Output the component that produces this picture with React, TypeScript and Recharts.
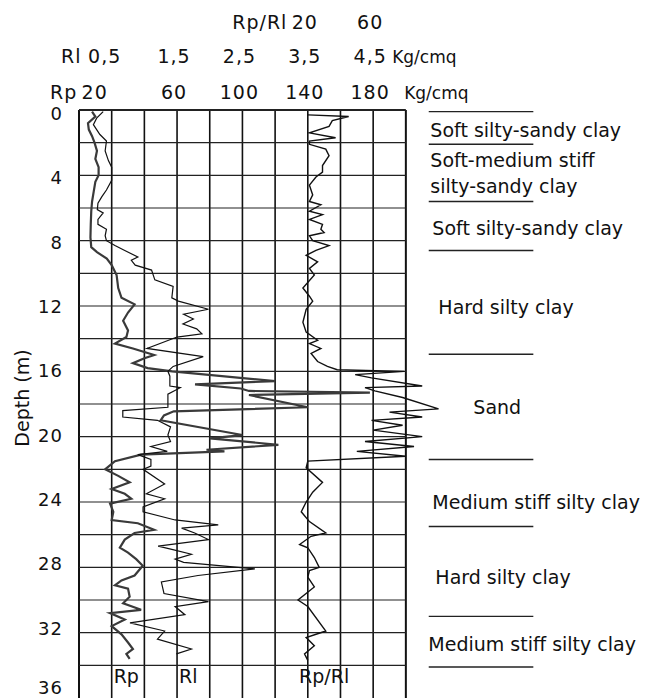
import React from "react";
import { LineChart, Line, XAxis, YAxis, ReferenceLine, ReferenceDot } from "recharts";

const FONT = "'DejaVu Sans', sans-serif";

// Rp - cone tip resistance (Kg/cmq) against depth (m)
const rpDepth = [
  0.1, 0.4, 0.8, 1.2, 1.6, 2.0, 2.5, 3.0, 3.5, 4.0, 4.4, 5.0, 5.6, 6.2, 7.0, 7.8, 8.4, 8.7, 9.1, 9.5,
  10.1, 10.9, 11.5, 11.9, 12.4, 12.9, 13.5, 13.9, 14.3, 14.6, 15.0, 15.2, 15.5, 15.8, 16.0, 16.6, 16.8,
  17.05, 17.2, 17.3, 17.45, 18.2, 18.45, 18.7, 19.0, 19.9, 20.1, 20.5, 20.8, 20.9, 21.1, 21.5, 22.0,
  22.4, 22.8, 23.2, 23.5, 23.8, 24.1, 24.6, 25.1, 25.3, 25.7, 25.9, 26.3, 26.8, 27.1, 27.5, 27.9, 28.5,
  28.8, 29.1, 29.3, 29.8, 30.2, 30.6, 30.8, 31.2, 31.6, 32.1, 32.6, 33.0, 33.3, 33.6,
];
const rpValue = [
  8, 10, 5.5, 6, 8, 9.5, 11, 10, 12, 12, 10, 9, 8, 7.5, 7.2, 7, 7.5, 11, 17, 20,
  23, 24, 26, 34, 30, 27, 30, 29, 22, 33, 46, 40, 33, 42, 57, 120, 71,
  99, 104, 178, 104, 140, 58, 52, 50, 100, 80, 122, 78, 89, 38, 22, 16,
  24, 31, 20, 28, 32, 19, 21, 20, 36, 46, 34, 28, 25, 30, 35, 39, 34,
  26, 22, 30, 31, 27, 38, 19, 28, 20, 26, 30, 33, 29, 31,
];

// Rl - lateral friction (Kg/cmq)
const rlDepth = [
  0.1, 0.5, 0.9, 1.5, 1.9, 2.5, 3.1, 3.5, 4.3, 4.9, 5.3, 5.7, 6.1, 6.3, 6.7, 7.0, 7.3, 7.7, 8.0, 8.3,
  8.6, 9.0, 9.2, 9.5, 9.8, 10.4, 10.8, 11.5, 11.7, 12.2, 12.5, 12.8, 13.1, 13.4, 13.7, 13.9, 14.6, 15.1,
  15.7, 16.0, 16.3, 16.9, 17.0, 17.4, 18.2, 18.4, 18.8, 19.0, 19.4, 19.9, 20.3, 20.6, 20.9, 21.1, 21.4,
  21.8, 22.0, 22.9, 23.5, 23.8, 24.3, 24.6, 25.1, 25.4, 25.6, 25.9, 26.3, 26.7, 26.9, 27.2, 27.5, 27.7,
  28.1, 28.5, 28.9, 29.6, 30.1, 30.4, 30.9, 31.4, 31.9, 32.4, 33.0, 33.3,
];
const rlValue = [
  0.37, 0.27, 0.22, 0.32, 0.42, 0.4, 0.45, 0.5, 0.5, 0.42, 0.35, 0.29, 0.28, 0.37, 0.29, 0.29, 0.42, 0.4, 0.42, 0.55,
  0.7, 0.9, 0.8, 0.86, 1.11, 1.16, 1.44, 1.42, 1.52, 1.98, 1.6, 1.75, 1.59, 1.8, 1.88, 1.5, 1.04, 1.9,
  1.44, 1.36, 1.39, 1.39, 1.55, 1.36, 1.36, 0.67, 0.67, 1.2, 1.4, 1.36, 1.4, 1.1, 1.35, 0.9, 1.1,
  1.1, 0.98, 1.31, 1.03, 1.31, 0.98, 0.98, 1.47, 2.13, 1.57, 1.77, 1.98, 1.21, 1.42, 1.72, 1.47, 1.6,
  2.69, 1.82, 1.26, 1.3, 1.98, 1.47, 1.62, 0.78, 1.31, 1.2, 1.72, 1.49,
];

// Rp/Rl ratio
const ratioDepth = [
  0.3, 0.4, 0.65, 1.0, 1.4, 1.7, 1.9, 2.1, 2.4, 2.8, 3.4, 3.8, 4.1, 4.6, 5.2, 5.6, 5.8, 6.2, 6.4, 6.7,
  7.0, 7.3, 7.5, 7.7, 8.0, 8.3, 8.6, 8.9, 9.3, 9.7, 10.1, 10.9, 11.4, 11.7, 12.2, 13.0, 13.6, 14.1, 14.3,
  14.6, 14.9, 15.4, 15.7, 15.9, 16.0, 16.2, 16.4, 16.9, 17.0, 17.2, 17.6, 18.3, 18.5, 18.8, 19.0, 19.3,
  19.6, 20.0, 20.3, 20.6, 20.9, 21.2, 21.5, 21.9, 22.8, 23.4, 24.0, 24.6, 25.2, 25.9, 26.1, 26.6, 26.8,
  27.4, 28.0, 28.2, 28.6, 29.2, 30.0, 30.4, 31.9, 32.3, 32.8, 33.3, 33.7,
];
const ratioValue = [
  20, 45, 35, 33, 21, 37, 21, 21, 31, 33, 29, 29, 25, 21, 23, 21, 28, 21, 29, 21,
  29, 28, 30, 21, 23, 33, 25, 19, 26, 21, 24, 17, 21, 23, 19, 17, 19, 26, 21,
  28, 22, 26, 32, 38, 79, 49, 59, 90, 55, 61, 78, 100, 70, 90, 59, 78,
  60, 90, 55, 85, 50, 80, 20, 19, 29, 23, 19, 16, 21, 31, 22, 15, 20,
  24, 27, 21, 20, 24, 14, 20, 31, 19, 24, 18, 20,
];

// soil profile
const layerBounds = [0.1, 2.1, 5.6, 8.6, 14.95, 21.4, 25.5, 31.0, 34.1];
const layerNames = [
  ["Soft silty-sandy clay"],
  ["Soft-medium stiff", "silty-sandy clay"],
  ["Soft silty-sandy clay"],
  ["Hard silty clay"],
  ["Sand"],
  ["Medium stiff silty clay"],
  ["Hard silty clay"],
  ["Medium stiff silty clay"],
];
const layerTextDepth = [1.67, 3.51, 7.66, 12.46, 18.63, 24.4, 29.0, 33.1];
const layerIndent = [0, 0, 2, 8, 43, 2, 5, -2];

const depthTicks = [0, 4, 8, 12, 16, 20, 24, 28, 32, 36];
const gridDepths = [0, 2, 4, 6, 8, 10, 12, 14, 16, 18, 20, 22, 24, 26, 28, 30, 32, 34];
const gridRp = [0, 20, 40, 60, 80, 100, 120, 140, 160, 180, 200];
const rpTicks = [20, 60, 100, 140, 180];
const rlTicks = [0.5, 1.5, 2.5, 3.5, 4.5];
const ratioTicks = [20, 60];

const rpData = rpDepth.map((d, i) => ({ d, v: rpValue[i] }));
const rlData = rlDepth.map((d, i) => ({ d, v: rlValue[i] }));
const ratioData = ratioDepth.map((d, i) => ({ d, v: ratioValue[i] }));

const fmt = (v: number) => String(v).replace(".", ",");

type Row = { name: string; baseline: number; count: number; firstDx: number; unitDx?: number };

const headerTick = (row: Row) => (props: any) => {
  const { x, payload, index } = props;
  const label = fmt(payload.value);
  const cx = x - 3 + (index === 0 ? row.firstDx : 0);
  const half = label.length * 0.3 * 19;
  return (
    <g fontFamily={FONT} fill="#111">
      {index === 0 && (
        <text x={cx - half - 6} y={row.baseline} textAnchor="end" fontSize={19} letterSpacing={1}>
          {row.name}
        </text>
      )}
      <text x={cx} y={row.baseline} textAnchor="middle" fontSize={19} letterSpacing={1}>
        {label}
      </text>
      {index === row.count - 1 && row.unitDx !== undefined && (
        <text x={cx + row.unitDx} y={row.baseline} fontSize={17}>
          Kg/cmq
        </text>
      )}
    </g>
  );
};

// depth numbers sit a little below their grid line near the top of the log
const DepthTick = (props: any) => {
  const { y, payload } = props;
  const ty = Math.min(y + 10 - payload.value * 0.25, 686);
  return (
    <text x={55} y={ty} textAnchor="end" fontSize={18} letterSpacing={1} fill="#111" fontFamily={FONT}>
      {payload.value}
    </text>
  );
};

const textLabel = (lines: string[], dx: number, anchor: string = "start") => (props: any) => {
  const { viewBox } = props;
  return (
    <text x={viewBox.x + dx} y={viewBox.y} textAnchor={anchor} fontSize={19} fill="#111" fontFamily={FONT}>
      {lines.map((t, i) => (
        <tspan key={i} x={viewBox.x + dx} dy={i === 0 ? 0 : 25.5}>
          {t}
        </tspan>
      ))}
    </text>
  );
};

export default function App() {
  return (
    <div style={{ width: 647, height: 690, fontFamily: FONT }}>
      <LineChart width={647} height={690} layout="vertical" margin={{ top: 0, right: 4, bottom: 0, left: 0 }}>
        <XAxis
          xAxisId="ratio"
          type="number"
          orientation="top"
          domain={[-120, 230]}
          ticks={ratioTicks}
          interval={0}
          height={34}
          axisLine={false}
          tickLine={false}
          allowDataOverflow
          tick={headerTick({ name: "Rp/Rl", baseline: 21, count: ratioTicks.length, firstDx: 0 })}
        />
        <XAxis
          xAxisId="rl"
          type="number"
          orientation="top"
          domain={[0, 8.75]}
          ticks={rlTicks}
          interval={0}
          height={34}
          axisLine={false}
          tickLine={false}
          allowDataOverflow
          tick={headerTick({ name: "Rl", baseline: 55, count: rlTicks.length, firstDx: -4, unitDx: 22 })}
        />
        <XAxis
          xAxisId="rp"
          type="number"
          orientation="top"
          domain={[0, 350]}
          ticks={rpTicks}
          interval={0}
          height={34}
          axisLine={false}
          tickLine={false}
          allowDataOverflow
          tick={headerTick({ name: "Rp", baseline: 91, count: rpTicks.length, firstDx: -14, unitDx: 34 })}
        />
        <YAxis
          type="number"
          dataKey="d"
          domain={[0, 36]}
          ticks={depthTicks}
          interval={0}
          width={71}
          axisLine={false}
          tickLine={false}
          allowDataOverflow
          tick={DepthTick}
          label={(p: any) => {
            const vb = p.viewBox;
            const x = vb.x + 14;
            const y = vb.y + vb.height / 2 - 6;
            return (
              <text x={x} y={y} transform={`rotate(-90 ${x} ${y})`} textAnchor="middle" dominantBaseline="central" fontSize={19} fill="#111" fontFamily={FONT}>
                Depth (m)
              </text>
            );
          }}
        />

        {gridRp.map((v) => (
          <ReferenceLine key={`v${v}`} xAxisId="rp" x={v} stroke="#111" strokeWidth={v === 0 || v === 200 ? 2 : 1.6} />
        ))}
        {gridDepths.map((d) => (
          <ReferenceLine
            key={`h${d}`}
            xAxisId="rp"
            segment={[{ x: 0, y: d }, { x: 200, y: d }]}
            stroke="#222"
            strokeWidth={d === 0 ? 1.8 : 1.2}
          />
        ))}

        <Line xAxisId="rp" data={rpData} dataKey="v" stroke="#3a3a3a" strokeWidth={2.2} dot={false} isAnimationActive={false} />
        <Line xAxisId="rl" data={rlData} dataKey="v" stroke="#111" strokeWidth={1.2} dot={false} isAnimationActive={false} />
        <Line xAxisId="ratio" data={ratioData} dataKey="v" stroke="#111" strokeWidth={1.4} dot={false} isAnimationActive={false} />

        {layerBounds.map((d) => (
          <ReferenceLine key={`s${d}`} xAxisId="rp" segment={[{ x: 214, y: d }, { x: 278, y: d }]} stroke="#222" strokeWidth={1.4} />
        ))}
        {layerNames.map((lines, i) => (
          <ReferenceDot
            key={`t${i}`}
            xAxisId="rp"
            x={215}
            y={layerTextDepth[i]}
            r={0}
            fill="none"
            stroke="none"
            label={textLabel(lines, layerIndent[i])}
          />
        ))}

        <ReferenceDot xAxisId="rp" x={20} y={35.08} r={0} fill="none" stroke="none" label={textLabel(["Rp"], 2)} />
        <ReferenceDot xAxisId="rl" x={1.5} y={35.08} r={0} fill="none" stroke="none" label={textLabel(["Rl"], 2)} />
        <ReferenceDot xAxisId="ratio" x={30} y={35.08} r={0} fill="none" stroke="none" label={textLabel(["Rp/Rl"], 0, "middle")} />
      </LineChart>
    </div>
  );
}
